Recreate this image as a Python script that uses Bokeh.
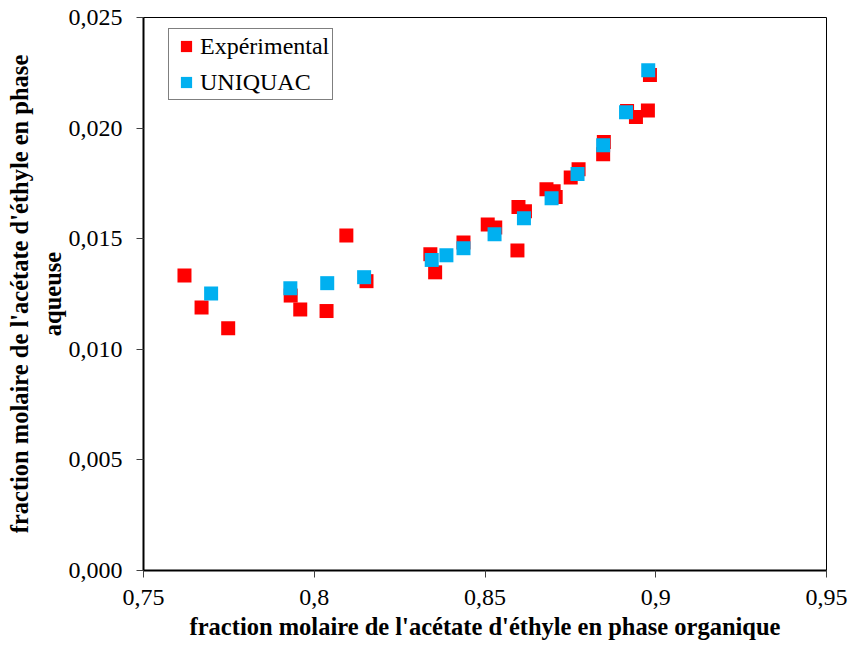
from bokeh.plotting import figure
from bokeh.models import FixedTicker, CustomJSTickFormatter, Legend, LegendItem
from bokeh.embed import file_html
from bokeh.resources import INLINE

exp_x = [0.7620, 0.7670, 0.7748, 0.7931, 0.7959, 0.8036, 0.8094, 0.8153,
         0.8340, 0.8354, 0.8437, 0.8508, 0.8530, 0.8595, 0.8598, 0.8617,
         0.8680, 0.8701, 0.8707, 0.8751, 0.8774, 0.8848, 0.8846, 0.8916,
         0.8942, 0.8977, 0.8983]
exp_y = [0.01334, 0.01189, 0.01095, 0.01243, 0.01180, 0.01173, 0.01514, 0.01308,
         0.01430, 0.01348, 0.01483, 0.01564, 0.01551, 0.01447, 0.01643, 0.01624,
         0.01723, 0.01715, 0.01689, 0.01777, 0.01814, 0.01937, 0.01882, 0.02077,
         0.02050, 0.02080, 0.02240]

uni_x = [0.7698, 0.7930, 0.8038, 0.8146, 0.8344, 0.8387, 0.8437, 0.8528,
         0.8614, 0.8695, 0.8771, 0.8846, 0.8913, 0.8978]
uni_y = [0.01252, 0.01276, 0.01299, 0.01326, 0.01404, 0.01425, 0.01457, 0.01520,
         0.01593, 0.01683, 0.01792, 0.01923, 0.02072, 0.02261]

x_ticks = [0.75, 0.8, 0.85, 0.9, 0.95]
y_ticks = [0.0, 0.005, 0.01, 0.015, 0.02, 0.025]

x_title = "fraction molaire de l'acétate d'éthyle en phase organique"
y_title = "fraction molaire de l'acétate d'éthyle en phase\naqueuse"
series_names = ["Expérimental", "UNIQUAC"]

FONT = "Liberation Serif"
RED = "#FF0000"
BLUE = "#00B0F0"

p = figure(width=852, height=646, x_range=(0.75, 0.95), y_range=(0.0, 0.025),
           output_backend="svg", toolbar_location=None,
           min_border_left=143, min_border_right=26, min_border_top=17,
           min_border_bottom=76)
p.background_fill_color = "white"
p.border_fill_color = "white"
p.outline_line_color = "black"
p.outline_line_width = 1
p.grid.visible = False

r1 = p.scatter(exp_x, exp_y, marker="square", size=14, fill_color=RED,
               line_color=None)
r2 = p.scatter(uni_x, uni_y, marker="square", size=14, fill_color=BLUE,
               line_color=None)

for ax in (p.xaxis[0], p.yaxis[0]):
    ax.axis_line_color = "black"
    ax.axis_line_width = 2
    ax.major_tick_line_color = "#404040"
    ax.major_tick_line_width = 1
    ax.major_tick_out = 7
    ax.major_tick_in = 0
    ax.minor_tick_line_color = None
    ax.major_label_text_font = FONT
    ax.major_label_text_font_size = "24px"
    ax.major_label_text_color = "black"
    ax.axis_label_text_font = FONT
    ax.axis_label_text_font_size = "24.5px"
    ax.axis_label_text_font_style = "bold"
    ax.axis_label_text_color = "black"

p.xaxis[0].ticker = FixedTicker(ticks=x_ticks)
p.yaxis[0].ticker = FixedTicker(ticks=y_ticks)
p.xaxis[0].formatter = CustomJSTickFormatter(
    code="return Number(tick.toFixed(2)).toString().replace('.', ',');")
p.yaxis[0].formatter = CustomJSTickFormatter(
    code="return tick.toFixed(3).replace('.', ',');")
p.xaxis[0].major_label_standoff = 12
p.yaxis[0].major_label_standoff = 14
p.xaxis[0].axis_label = x_title
p.yaxis[0].axis_label = y_title
p.xaxis[0].axis_label_standoff = 5
p.yaxis[0].axis_label_standoff = 0

legend = Legend(items=[LegendItem(label=series_names[0], renderers=[r1]),
                       LegendItem(label=series_names[1], renderers=[r2])],
                location=(25, 470))
legend.border_line_color = "black"
legend.border_line_width = 1
legend.background_fill_alpha = 1
legend.label_text_font = FONT
legend.label_text_font_size = "24px"
legend.label_text_color = "black"
legend.padding = 3
legend.spacing = 8
legend.margin = 0
legend.glyph_height = 28
legend.glyph_width = 28
legend.label_height = 28
legend.label_standoff = 0
p.add_layout(legend, "center")

open("out.html", "w").write(file_html(p, INLINE))
